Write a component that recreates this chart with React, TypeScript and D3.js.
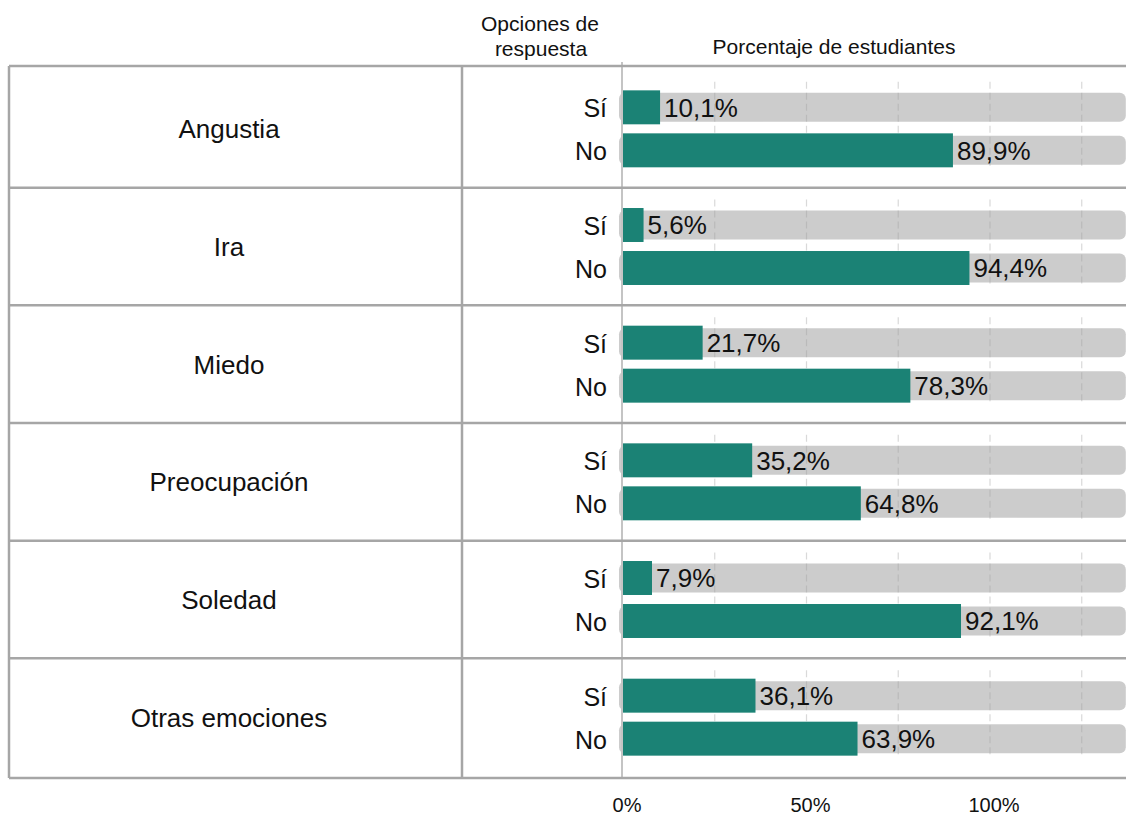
import React from "react";
import * as d3 from "d3";

const categories = ["Angustia", "Ira", "Miedo", "Preocupación", "Soledad", "Otras emociones"];
const options = ["Sí", "No"];
const siValues = [10.1, 5.6, 21.7, 35.2, 7.9, 36.1];
const noValues = [89.9, 94.4, 78.3, 64.8, 92.1, 63.9];
const axisTicks = [0, 50, 100];
const gridTicks = [25, 50, 75, 100, 125];
const maxTrack = 137;

const width = 1126;
const height = 817;
const font = "'Liberation Sans', Arial, sans-serif";
const green = "#1b8275";
const track = "#cccccc";
const border = "#a6a6a6";

const fmt = (v: number) => v.toFixed(1).replace(".", ",") + "%";

const App: React.FC = () => {
    const tableLeft = 9;
    const tableTop = 66;
    const tableBottom = 778;
    const colDivider = 462;

    const x = d3.scaleLinear().domain([0, 100]).range([623, 990]);
    const row = d3.scaleBand<string>().domain(categories).range([70, 776]);
    const opt = d3
        .scaleBand<string>()
        .domain(options)
        .range([-43, 43])
        .paddingInner(0.21)
        .paddingOuter(0.105);

    const rows = categories.map((c, i) => ({
        cat: c,
        center: (row(c) as number) + row.bandwidth() / 2,
        values: [siValues[i], noValues[i]],
    }));

    return (
        <svg
            width={width}
            height={height}
            style={{ position: "absolute", left: 0, top: 0, background: "#fff" }}
            fontFamily={font}
        >
            {/* headers */}
            <text x={540} y={31} fontSize={21} textAnchor="middle" fill="#111">
                Opciones de
            </text>
            <text x={541} y={56} fontSize={21} textAnchor="middle" fill="#111">
                respuesta
            </text>
            <text x={834} y={54} fontSize={21} textAnchor="middle" fill="#111">
                Porcentaje de estudiantes
            </text>

            {/* background tracks */}
            {rows.map((r) =>
                options.map((o) => (
                    <rect
                        key={r.cat + o + "bg"}
                        x={x(0) - 4}
                        y={r.center + (opt(o) as number) + opt.bandwidth() / 2 - 14.5}
                        width={x(maxTrack) - x(0) + 4}
                        height={29}
                        rx={6}
                        fill={track}
                    />
                ))
            )}

            {/* grid lines */}
            {rows.map((r) =>
                gridTicks.map((t) => (
                    <line
                        key={r.cat + "g" + t}
                        x1={x(t)}
                        x2={x(t)}
                        y1={r.center - 47}
                        y2={r.center + 40}
                        stroke="#a0a0a0"
                        strokeOpacity={0.4}
                        strokeWidth={1.2}
                        strokeDasharray="7,4"
                    />
                ))
            )}

            {/* bars and labels */}
            {rows.map((r) =>
                options.map((o, j) => {
                    const y0 = r.center + (opt(o) as number);
                    const v = r.values[j];
                    return (
                        <g key={r.cat + o}>
                            <rect
                                x={x(0)}
                                y={y0}
                                width={x(v) - x(0)}
                                height={opt.bandwidth()}
                                fill={green}
                            />
                            <text
                                x={x(v) + 4}
                                y={y0 + opt.bandwidth() / 2}
                                dy="0.36em"
                                fontSize={26}
                                fill="#111"
                            >
                                {fmt(v)}
                            </text>
                            <text
                                x={607}
                                y={y0 + opt.bandwidth() / 2}
                                dy="0.4em"
                                fontSize={25}
                                textAnchor="end"
                                fill="#111"
                            >
                                {o}
                            </text>
                        </g>
                    );
                })
            )}

            {/* category labels */}
            {rows.map((r) => (
                <text
                    key={r.cat + "lab"}
                    x={229}
                    y={r.center}
                    dy="0.36em"
                    fontSize={26}
                    textAnchor="middle"
                    fill="#111"
                >
                    {r.cat}
                </text>
            ))}

            {/* axis line */}
            <line x1={x(0) - 1} x2={x(0) - 1} y1={62} y2={tableBottom} stroke="#c4c4c4" strokeWidth={2} />

            {/* table borders */}
            {categories.slice(1).map((c) => (
                <line
                    key={c + "div"}
                    x1={tableLeft}
                    x2={width}
                    y1={row(c) as number}
                    y2={row(c) as number}
                    stroke={border}
                    strokeWidth={2.5}
                />
            ))}
            <line x1={tableLeft} x2={width} y1={tableTop} y2={tableTop} stroke={border} strokeWidth={2.5} />
            <line x1={tableLeft} x2={width} y1={tableBottom} y2={tableBottom} stroke={border} strokeWidth={2.5} />
            <line x1={tableLeft} x2={tableLeft} y1={tableTop} y2={tableBottom} stroke={border} strokeWidth={2.5} />
            <line x1={colDivider} x2={colDivider} y1={tableTop} y2={tableBottom} stroke={border} strokeWidth={2.5} />

            {/* x tick labels */}
            {axisTicks.map((t) => (
                <text key={"t" + t} x={x(t) + 4} y={812} fontSize={20} textAnchor="middle" fill="#111">
                    {t + "%"}
                </text>
            ))}
        </svg>
    );
};

export default App;
